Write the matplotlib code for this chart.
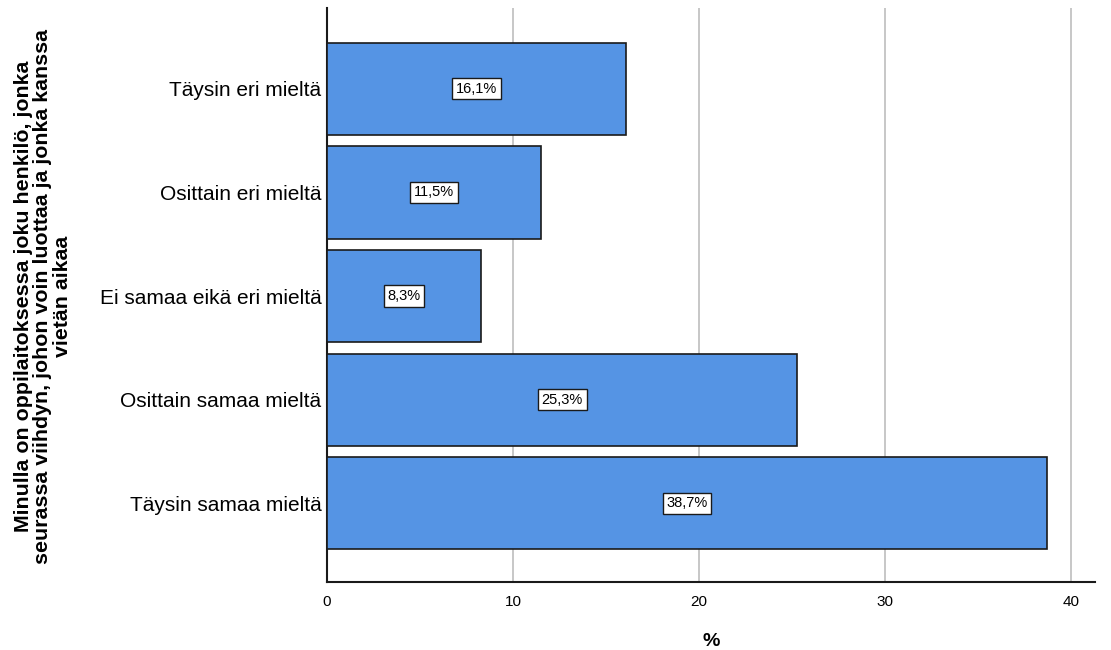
import matplotlib
matplotlib.use("Agg")
from matplotlib import pyplot as plt
import numpy as np

plt.rcParams['font.family'] = ['Liberation Sans', 'DejaVu Sans']

# response categories, top to bottom
categories = ["Täysin eri mieltä", "Osittain eri mieltä", "Ei samaa eikä eri mieltä",
              "Osittain samaa mieltä", "Täysin samaa mieltä"]
percents = [16.1, 11.5, 8.3, 25.3, 38.7]
xticks = [0, 10, 20, 30, 40]

fig = plt.figure(figsize=(11.11, 6.5), dpi=100)
ax = fig.add_axes([327 / 1111, 68 / 650, (1095 - 327) / 1111, (582 - 8) / 650])

y = np.arange(len(categories))
ax.barh(y, percents, height=0.89, color='#5594E4', edgecolor='#1a1a1a', linewidth=1.2, zorder=3)

# value boxes in the middle of each bar
for yi, p in zip(y, percents):
    ax.text(p / 2, yi, f"{p:.1f}%".replace('.', ','), ha='center', va='center', fontsize=10.5,
            zorder=4, bbox=dict(boxstyle='square,pad=0.25', facecolor='white', edgecolor='#1a1a1a', linewidth=1))

ax.set_yticks(y)
ax.set_yticklabels(categories, fontsize=15)
ax.set_xticks(xticks)
ax.set_xticklabels([str(t) for t in xticks], fontsize=11)
ax.tick_params(axis='y', length=0, pad=4)
ax.tick_params(axis='x', length=0, pad=9)
ax.set_xlim(0, 41.3)
ax.set_ylim(4.76, -0.78)

ax.grid(axis='x', color='#bdbdbd', linewidth=1.2, zorder=0)
ax.spines['top'].set_visible(False)
ax.spines['right'].set_visible(False)
for s in ('left', 'bottom'):
    ax.spines[s].set_linewidth(1.5)
    ax.spines[s].set_color('#1a1a1a')

ax.set_xlabel('%', fontsize=14, fontweight='bold', labelpad=18)
fig.text(43 / 1111, 1 - 296 / 650,
         "Minulla on oppilaitoksessa joku henkilö, jonka\nseurassa viihdyn, johon voin luottaa ja jonka kanssa\nvietän aikaa",
         rotation=90, ha='center', va='center', fontsize=15.4, fontweight='bold', multialignment='center',
         linespacing=1.0)

fig.savefig('out.png', dpi=100)
